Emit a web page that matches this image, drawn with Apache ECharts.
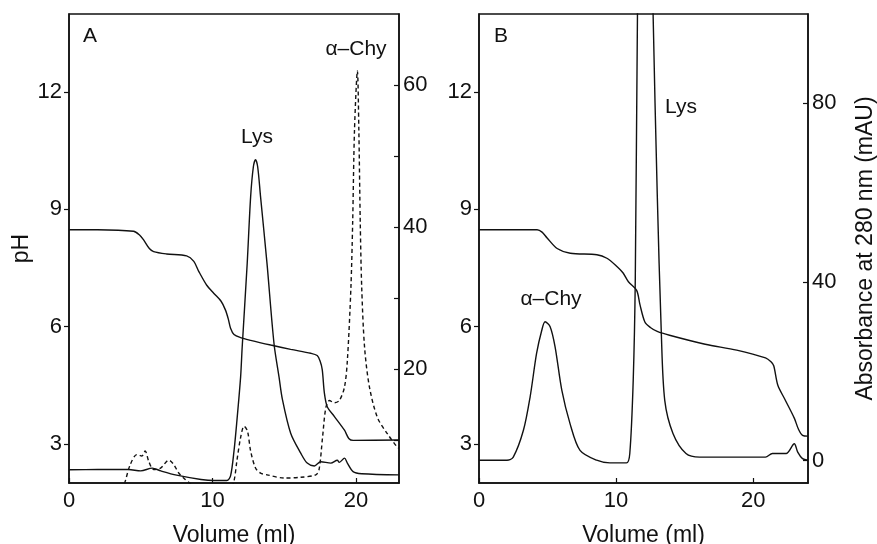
<!DOCTYPE html>
<html>
<head>
<meta charset="utf-8">
<script src="https://cdn.jsdelivr.net/npm/echarts@6/dist/echarts.min.js"></script>
<style>
  html, body { margin: 0; padding: 0; background: #fff; }
  #main { width: 877px; height: 544px; }
</style>
</head>
<body>
<div id="main"></div>
<script>
// [volume (ml), value] pairs

// panel A: pH gradient
var phA = [
  [0, 8.48], [2, 8.48], [4.5, 8.44], [4.9, 8.35], [5.2, 8.22], [5.6, 8.0], [5.9, 7.92],
  [6.8, 7.86], [8.2, 7.81], [8.7, 7.67], [9.05, 7.41], [9.6, 7.06], [10.1, 6.85],
  [10.6, 6.65], [10.9, 6.43], [11.1, 6.2], [11.26, 5.96], [11.5, 5.8], [11.96, 5.72],
  [12.66, 5.65], [14.06, 5.53], [15.45, 5.42], [16.85, 5.32], [17.3, 5.26], [17.5, 5.12],
  [17.65, 4.9], [17.8, 4.3], [18.0, 3.95], [18.5, 3.7], [19.2, 3.35], [19.5, 3.14],
  [19.8, 3.09], [23, 3.1]
];
// panel A: absorbance, solid trace (Lys)
var lysA = [
  [0, 5.86], [2, 5.9], [4.15, 5.9], [5.0, 5.7], [5.8, 6.1], [6.4, 5.7], [7.5, 5.1],
  [9.2, 4.5], [10.1, 4.35], [11.0, 4.35], [11.26, 5.0], [11.5, 8.5], [11.7, 12.7],
  [11.96, 18.9], [12.07, 23.1], [12.42, 34.9], [12.66, 44.3], [12.85, 48.5], [13.0, 49.5],
  [13.15, 48.5], [13.35, 44.3], [13.8, 34.9], [14.29, 23.6], [14.64, 18.9], [14.87, 15.8],
  [15.45, 11.0], [16.15, 8.2], [16.6, 6.8], [17.1, 6.4], [17.55, 7.0], [18.25, 6.8],
  [18.7, 7.2], [18.84, 6.9], [19.2, 7.5], [19.4, 6.8], [19.8, 5.6], [20.4, 5.3], [23, 5.15]
];
// panel A: absorbance, dashed trace (α-Chy)
var chyA = [
  [3.7, 3.0], [3.92, 4.26], [4.27, 6.6], [4.73, 8.0], [5.08, 7.8], [5.31, 8.5], [5.55, 7.1],
  [5.9, 5.9], [6.38, 6.1], [6.96, 7.2], [7.3, 6.6], [7.65, 5.4], [8.1, 4.5], [8.46, 3.9],
  [9.0, 3.0], [10.5, 2.8], [11.2, 3.0], [11.5, 4.3], [11.7, 7.1], [11.96, 10.4],
  [12.2, 12.0], [12.44, 11.3], [12.66, 8.5], [13.0, 6.1], [13.35, 5.4], [13.8, 5.15],
  [15.0, 4.7], [16.15, 4.8], [17.2, 5.15], [17.43, 5.9], [17.67, 10.4], [17.9, 14.6],
  [18.15, 15.6], [18.5, 15.3], [18.84, 15.6], [19.2, 17.5], [19.4, 21.2], [19.65, 31.6],
  [19.77, 40.6], [19.9, 53.8], [20.1, 62.0], [20.2, 53.8], [20.3, 40.6], [20.4, 31.6],
  [20.6, 23.1], [20.94, 17.5], [21.5, 13.2], [22.2, 10.9], [22.9, 9.0], [23, 8.9]
];

// panel B: pH gradient
var phB = [
  [0, 8.48], [4.24, 8.48], [4.6, 8.42], [4.97, 8.27], [5.7, 8.0], [6.66, 7.88], [8.6, 7.84],
  [9.33, 7.75], [10.06, 7.54], [10.5, 7.38], [10.9, 7.15], [11.5, 6.93], [11.75, 6.55],
  [12.1, 6.12], [12.5, 5.98], [13.0, 5.88], [13.9, 5.78], [16.5, 5.55], [18.8, 5.4],
  [20.9, 5.2], [21.3, 5.1], [21.5, 5.0], [21.8, 4.5], [22.3, 4.15], [23.0, 3.66],
  [23.3, 3.38], [23.6, 3.22], [24, 3.2]
];
// panel B: absorbance
var absB = [
  [0, 0.1], [2.04, 0.1], [2.5, 0.8], [3.24, 6.8], [3.73, 14.3], [4.2, 24.0], [4.58, 29.2],
  [4.82, 31.1], [5.19, 30.0], [5.55, 25.5], [6.04, 15.8], [6.64, 8.3], [7.37, 2.3],
  [8.58, 0.1], [9.55, -0.5], [10.76, -0.5], [11.0, 1.6], [11.25, 18.0], [11.4, 40.5],
  [11.56, 100], [11.8, 160], [12.05, 185], [12.35, 160], [12.7, 100], [13.0, 60],
  [13.3, 28.5], [13.55, 13.5], [14.15, 6.1], [15.1, 1.6], [16.1, 0.8], [20.9, 0.8],
  [21.4, 1.6], [22.4, 1.6], [23.0, 3.8], [23.25, 1.9], [23.6, 0.45], [24, 0.1]
];

// ticks
var volTicks = [0, 10, 20];
var phTicks = [3, 6, 9, 12];
var absTicksA = [20, 40, 60];
var absMinorA = [10, 20, 30, 40, 50, 60];
var absTicksB = [0, 40, 80];

var font = "'Liberation Sans', Arial, sans-serif";
var ink = '#111';

function xAx(grid, max) {
  return {
    type: 'value', gridIndex: grid, min: 0, max: max,
    name: 'Volume (ml)', nameLocation: 'middle', nameGap: 41,
    nameTextStyle: { fontFamily: font, fontSize: 23, color: ink },
    axisLine: { show: true, onZero: false, lineStyle: { color: ink, width: 1.5 } },
    axisTick: { show: true, inside: true, length: 5, customValues: volTicks, lineStyle: { color: ink, width: 1.2 } },
    axisLabel: { customValues: volTicks, margin: 7, fontFamily: font, fontSize: 22, color: ink },
    splitLine: { show: false }
  };
}

function phAx(grid, withName) {
  return {
    type: 'value', gridIndex: grid, position: 'left', min: 2, max: 14,
    name: withName ? 'pH' : '', nameLocation: 'middle', nameGap: 31, nameRotate: 90,
    nameTextStyle: { fontFamily: font, fontSize: 23, color: ink },
    axisLine: { show: true, onZero: false, lineStyle: { color: ink, width: 1.5 } },
    axisTick: { show: true, inside: false, length: 5, customValues: phTicks, lineStyle: { color: ink, width: 1.2 } },
    axisLabel: { customValues: phTicks, margin: 7, fontFamily: font, fontSize: 22, color: ink },
    splitLine: { show: false }
  };
}

function absAx(grid, min, max, labels, ticks, name) {
  return {
    type: 'value', gridIndex: grid, position: 'right', min: min, max: max,
    name: name, nameLocation: 'middle', nameGap: 46, nameRotate: 90,
    nameTextStyle: { fontFamily: font, fontSize: 23, color: ink },
    axisLine: { show: true, onZero: false, lineStyle: { color: ink, width: 1.5 } },
    axisTick: { show: true, inside: true, length: 5, customValues: ticks, lineStyle: { color: ink, width: 1.2 } },
    axisLabel: { customValues: labels, margin: 4, fontFamily: font, fontSize: 22, color: ink },
    splitLine: { show: false }
  };
}

function trace(name, data, xi, yi, dashed) {
  return {
    name: name, type: 'line', data: data, xAxisIndex: xi, yAxisIndex: yi,
    showSymbol: false, smooth: 0.3, clip: true,
    lineStyle: { color: ink, width: 1.4, type: dashed ? [4, 3] : 'solid' },
    silent: true, animation: false
  };
}

function note(text, x, y) {
  return {
    type: 'text', x: x, y: y,
    style: { text: text, fill: ink, font: '21px ' + font, textAlign: 'center', textVerticalAlign: 'middle' }
  };
}

var chart = echarts.init(document.getElementById('main'), null, { renderer: 'canvas' });
chart.setOption({
  backgroundColor: '#fff',
  animation: false,
  grid: [
    { left: 69, top: 14, width: 330, height: 469, outerBoundsMode: 'none', containLabel: false,
      show: true, borderColor: ink, borderWidth: 1.5, backgroundColor: 'transparent' },
    { left: 479, top: 14, width: 329, height: 469, outerBoundsMode: 'none', containLabel: false,
      show: true, borderColor: ink, borderWidth: 1.5, backgroundColor: 'transparent' }
  ],
  xAxis: [xAx(0, 23), xAx(1, 24)],
  yAxis: [
    phAx(0, true),
    absAx(0, 4, 70, absTicksA, absMinorA, ''),
    phAx(1, false),
    absAx(1, -5, 100, absTicksB, absTicksB, 'Absorbance at 280 nm (mAU)')
  ],
  series: [
    trace('pH', phA, 0, 0, false),
    trace('A280 Lys', lysA, 0, 1, false),
    trace('A280 α-Chy', chyA, 0, 1, true),
    trace('pH', phB, 1, 2, false),
    trace('A280', absB, 1, 3, false)
  ],
  graphic: [
    note('A', 90, 36),
    note('B', 501, 36),
    note('Lys', 257, 137),
    note('α–Chy', 356, 49),
    note('Lys', 681, 107),
    note('α–Chy', 551, 299)
  ]
});
</script>
</body>
</html>
